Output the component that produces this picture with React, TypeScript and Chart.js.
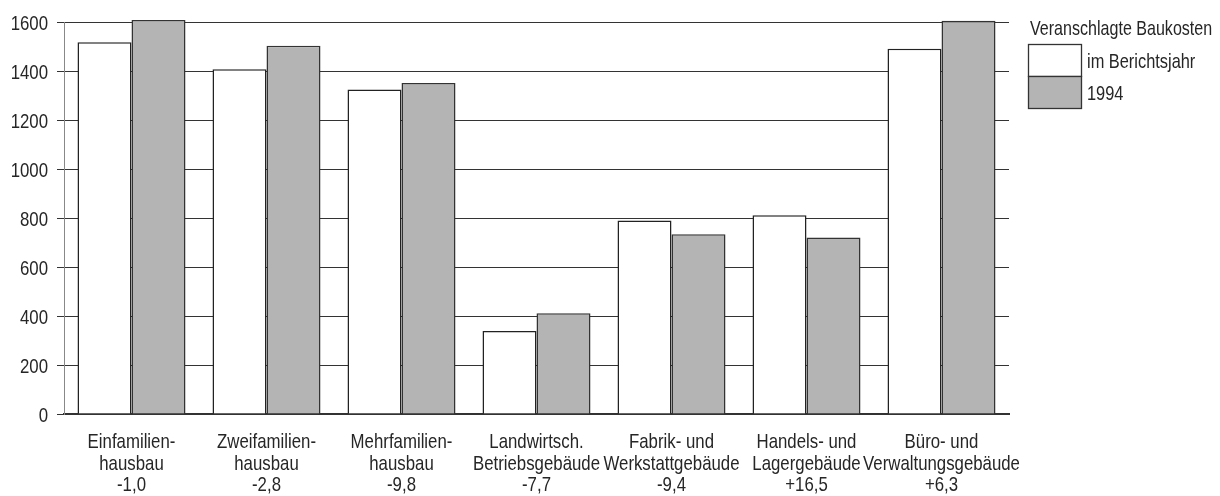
import React, { useEffect, useRef } from "react";
import { Chart, registerables } from "chart.js";

Chart.register(...registerables);

const categories: string[][] = [
  ["Einfamilien-", "hausbau", "-1,0"],
  ["Zweifamilien-", "hausbau", "-2,8"],
  ["Mehrfamilien-", "hausbau", "-9,8"],
  ["Landwirtsch.", "Betriebsgebäude", "-7,7"],
  ["Fabrik- und", "Werkstattgebäude", "-9,4"],
  ["Handels- und", "Lagergebäude", "+16,5"],
  ["Büro- und", "Verwaltungsgebäude", "+6,3"],
];

const berichtsjahr: number[] = [1517, 1407, 1324, 339, 790, 811, 1491];
const jahr1994: number[] = [1608, 1503, 1351, 411, 734, 720, 1605];

const yTicks: number[] = [0, 200, 400, 600, 800, 1000, 1200, 1400, 1600];

const legendTitle = "Veranschlagte Baukosten";
const seriesLabels: string[] = ["im Berichtsjahr", "1994"];

const FONT = "'Liberation Sans', Arial, sans-serif";
const FONT_SIZE = 21;
const SQUEEZE = 0.8;
const TEXT = "#262626";

function narrowText(
  ctx: CanvasRenderingContext2D,
  text: string,
  x: number,
  y: number,
  align: "left" | "center" | "right",
  squeeze: number = SQUEEZE
) {
  ctx.save();
  ctx.translate(x, y);
  ctx.scale(squeeze, 1);
  ctx.textAlign = align;
  ctx.textBaseline = "alphabetic";
  ctx.fillText(text, 0, 0);
  ctx.restore();
}

const textPlugin = {
  id: "narrowLabels",
  afterDraw(chart: any) {
    const ctx = chart.ctx as CanvasRenderingContext2D;
    const xs = chart.scales.x;
    const ys = chart.scales.y;
    const area = chart.chartArea;
    ctx.save();
    ctx.font = `${FONT_SIZE}px ${FONT}`;
    ctx.fillStyle = TEXT;

    // x axis labels (multi-line)
    const labels = chart.data.labels as string[][];
    labels.forEach((lines, i) => {
      const px = xs.getPixelForTick(i);
      lines.forEach((line, k) => {
        narrowText(ctx, line, px, area.bottom + 34 + k * 21.7, "center");
      });
    });

    // y axis labels
    yTicks.forEach((v) => {
      const py = ys.getPixelForValue(v);
      narrowText(ctx, String(v), area.left - 16, py + 7.5, "right");
    });

    // legend
    const ds = chart.data.datasets;
    const x0 = 1028;
    narrowText(ctx, legendTitle, x0 + 2, 35, "left", 0.765);
    const boxW = 53;
    const boxH = 32;
    let y = 44;
    ds.forEach((d: any) => {
      ctx.fillStyle = d.backgroundColor;
      ctx.fillRect(x0, y, boxW, boxH);
      ctx.lineWidth = 1.3;
      ctx.strokeStyle = "#333";
      ctx.strokeRect(x0 + 0.5, y + 0.5, boxW, boxH);
      ctx.fillStyle = TEXT;
      narrowText(ctx, d.label, x0 + 59, y + 24, "left", 0.78);
      y += boxH;
    });
    ctx.restore();
  },
};

export default function App() {
  const ref = useRef<HTMLCanvasElement | null>(null);

  useEffect(() => {
    if (!ref.current) return;
    const chart = new Chart(ref.current, {
      type: "bar",
      data: {
        labels: categories,
        datasets: [
          {
            label: seriesLabels[0],
            data: berichtsjahr,
            backgroundColor: "#ffffff",
            borderColor: "#222",
            borderWidth: 1.5,
            categoryPercentage: 0.8,
            barPercentage: 1.0,
            clip: false as any,
          },
          {
            label: seriesLabels[1],
            data: jahr1994,
            backgroundColor: "#b4b4b4",
            borderColor: "#333",
            borderWidth: 1.5,
            categoryPercentage: 0.8,
            barPercentage: 1.0,
            clip: false as any,
          },
        ],
      },
      options: {
        responsive: false,
        animation: false,
        layout: { padding: { left: 0, top: 22, right: 211, bottom: 0 } },
        plugins: {
          legend: { display: false },
          tooltip: { enabled: false },
          title: { display: false },
        },
        scales: {
          x: {
            grid: { display: false, drawTicks: false },
            border: { display: true, color: "#333", width: 2 },
            ticks: { display: false },
            afterFit(scale: any) {
              scale.height = 82;
            },
          },
          y: {
            min: 0,
            max: 1600,
            ticks: { stepSize: 200, display: false },
            grid: {
              color: "#333",
              lineWidth: 1,
              tickLength: 7,
              drawTicks: true,
            },
            border: { display: true, color: "#888", width: 1 },
            afterFit(scale: any) {
              scale.width = 64;
            },
          },
        },
      },
      plugins: [textPlugin],
    });
    return () => chart.destroy();
  }, []);

  return (
    <div style={{ position: "absolute", left: 0, top: 0, width: 1220, height: 496, background: "#fff" }}>
      <canvas ref={ref} width={1220} height={496} />
    </div>
  );
}
